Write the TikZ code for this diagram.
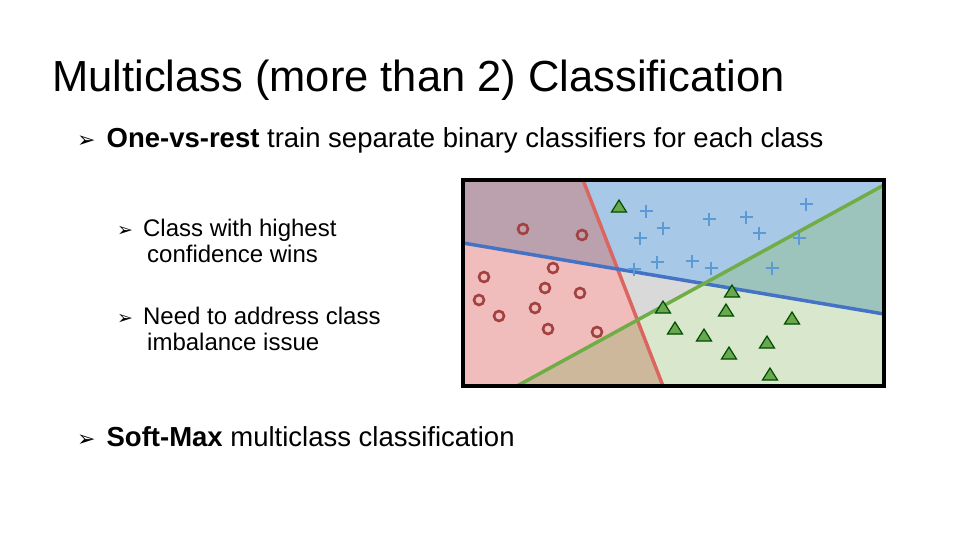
\documentclass[tikz,border=0pt]{standalone}
\usepackage{fontspec}
\setmainfont{Liberation Sans}
\newfontfamily\dv{DejaVu Sans}
\begin{document}
\begin{tikzpicture}[x=1pt,y=-1pt,
  txt/.style={anchor=base west,inner sep=0pt}]
\useasboundingbox (0,0) rectangle (960,540);
\definecolor{mauve}{HTML}{BBA0AD}\definecolor{pinkr}{HTML}{F0BCBC}
\definecolor{tanr}{HTML}{CDB89C}\definecolor{grayr}{HTML}{D9D9D9}
\definecolor{lblue}{HTML}{A8C8E8}\definecolor{tealr}{HTML}{9CC4BC}
\definecolor{lgreen}{HTML}{D9E8CC}\definecolor{redl}{HTML}{DB6660}
\definecolor{bluel}{HTML}{4472C4}\definecolor{greenl}{HTML}{70AD47}
\definecolor{plusc}{HTML}{5B9BD5}\definecolor{trif}{HTML}{6AA84F}
\definecolor{circc}{HTML}{A34040}
\fill[mauve] (463,180)--(583,180)--(617.6,269)--(463,243)--cycle;
\fill[pinkr] (463,243)--(617.6,269)--(637.4,320)--(517,386)--(463,386)--cycle;
\fill[tanr] (517,386)--(637.4,320)--(663,386)--cycle;
\fill[grayr] (617.6,269)--(704,283.6)--(637.4,320)--cycle;
\fill[lblue] (583,180)--(884,180)--(884,185)--(704,283.6)--(617.6,269)--cycle;
\fill[tealr] (884,185)--(884,314)--(704,283.6)--cycle;
\fill[lgreen] (637.4,320)--(704,283.6)--(884,314)--(884,386)--(663,386)--cycle;
\coordinate (rt) at (583,180);\coordinate (rb) at (663,386);
\coordinate (bl) at (463,243);\coordinate (br) at (884,314);
\coordinate (gb) at (517,386);\coordinate (gt) at (884,185);
\draw[redl,line width=3.5pt] (rt)--(rb);
\draw[bluel,line width=3.5pt] (bl)--(br);
\draw[greenl,line width=3.5pt] (gb)--(gt);
\foreach \p in {(523,229),(582,235),(553,268),(484,277),(545,288),(580,293),(479,300),(535,308),(499,316),(548,329),(597,332)}
  \node[circle,draw=circc,line width=2.6pt,inner sep=0pt,minimum size=10pt] at \p {};
\foreach \x/\y in {646/211,709/219,746/217,806/204,663/228,640/238,759/233,799/238,657/262,634/269,692/261,711/268,772/268}
  \draw[plusc,line width=2.6pt] (\x-6.5,\y)--(\x+6.5,\y) (\x,\y-6.5)--(\x,\y+6.5);
\foreach \p in {(619,207),(732,292),(663,308),(726,311),(792,319),(675,329),(704,336),(767,343),(729,354),(770,375)}
  \fill[trif,draw=green!30!black,line width=1.2pt] \p ++(0,-7) -- ++(7.5,12) -- ++(-15,0) -- cycle;
\draw[black,line width=3.5pt] (463,180) rectangle (884,386);
\node[txt,font=\fontsize{43.5}{46}\selectfont] (title) at (52,92) {Multiclass (more than 2) Classification};
\node[txt,font=\fontsize{27.5}{30}\selectfont] (b1) at (77,148) {{\dv\fontsize{22}{24}\selectfont ➢}\hspace{11pt}\textbf{One-vs-rest} train separate binary classifiers for each class};
\node[txt,font=\fontsize{24}{26}\selectfont] (b2) at (117,236) {{\dv\fontsize{19}{20}\selectfont ➢}\hspace{10pt}Class with highest};
\node[txt,font=\fontsize{24}{26}\selectfont] (b2b) at (147,262) {confidence wins};
\node[txt,font=\fontsize{24}{26}\selectfont] (b3) at (117,324) {{\dv\fontsize{19}{20}\selectfont ➢}\hspace{10pt}Need to address class};
\node[txt,font=\fontsize{24}{26}\selectfont] (b3b) at (147,350) {imbalance issue};
\node[txt,font=\fontsize{27.5}{30}\selectfont] (b4) at (77,446) {{\dv\fontsize{22}{24}\selectfont ➢}\hspace{11pt}\textbf{Soft-Max} multiclass classification};
\end{tikzpicture}
\end{document}
